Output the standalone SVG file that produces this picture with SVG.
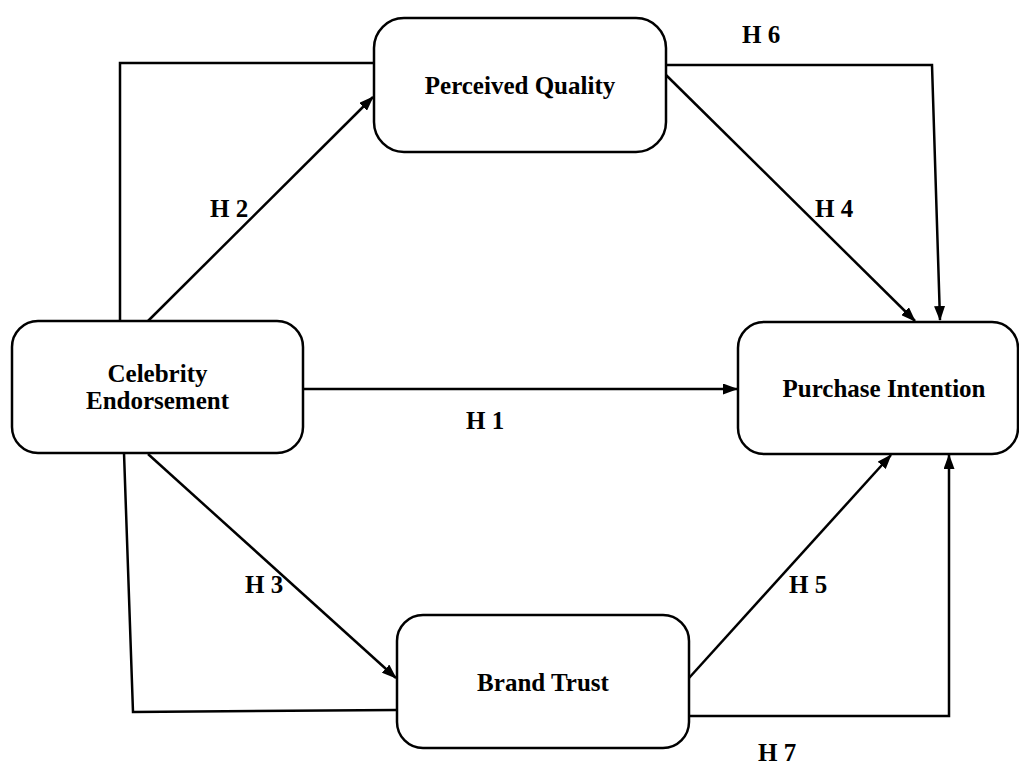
<svg xmlns="http://www.w3.org/2000/svg" width="1019" height="767" viewBox="0 0 1019 767">
<defs>
<style>
.node rect{fill:#fff;stroke:#000;stroke-width:2.5}
.node text{font-family:"Liberation Serif","Times New Roman",serif;font-weight:bold;font-size:25px;fill:#000;text-anchor:middle}
.lbl{font-family:"Liberation Serif","Times New Roman",serif;font-weight:bold;font-size:25px;fill:#000}
#connectors path,#connectors line{fill:none;stroke:#000;stroke-width:2.5}
</style>
<marker id="arr" markerUnits="userSpaceOnUse" markerWidth="15" markerHeight="11" refX="14" refY="5.5" orient="auto" viewBox="0 0 15 11">
<path d="M0,0 L15,5.5 L0,11 z" fill="#000"/>
</marker>
</defs>
<rect width="1019" height="767" fill="#fff"/>
<g id="connectors">
<path d="M120,321 L120,63 L374,63"/>
<line x1="148" y1="321" x2="373" y2="97" marker-end="url(#arr)"/>
<path d="M666,65 L932,65 L940,320" marker-end="url(#arr)"/>
<line x1="666" y1="75" x2="915" y2="321" marker-end="url(#arr)"/>
<line x1="303" y1="389" x2="737" y2="389" marker-end="url(#arr)"/>
<line x1="148" y1="454" x2="396" y2="678" marker-end="url(#arr)"/>
<path d="M124,453 L133,712 L397,710"/>
<line x1="689" y1="678" x2="891" y2="455" marker-end="url(#arr)"/>
<path d="M689,716 L949,716 L949,455" marker-end="url(#arr)"/>
</g>
<g id="node-pq" class="node">
<rect x="374" y="18" width="292" height="134" rx="30" ry="30"/>
<text x="520" y="94">Perceived Quality</text>
</g>
<g id="node-ce" class="node">
<rect x="12" y="321" width="291" height="132" rx="26" ry="26"/>
<text x="157.5" y="382">Celebrity</text>
<text x="157.5" y="409">Endorsement</text>
</g>
<g id="node-pi" class="node">
<rect x="738" y="322" width="280" height="132" rx="26" ry="26"/>
<text x="884" y="397">Purchase Intention</text>
</g>
<g id="node-bt" class="node">
<rect x="397" y="615" width="292" height="133" rx="26" ry="26"/>
<text x="543" y="691">Brand Trust</text>
</g>
<g id="labels">
<text class="lbl" x="210" y="217">H 2</text>
<text class="lbl" x="742" y="43">H 6</text>
<text class="lbl" x="815" y="217">H 4</text>
<text class="lbl" x="466" y="429">H 1</text>
<text class="lbl" x="245" y="593">H 3</text>
<text class="lbl" x="789" y="593">H 5</text>
<text class="lbl" x="758" y="761">H 7</text>
</g>
</svg>
